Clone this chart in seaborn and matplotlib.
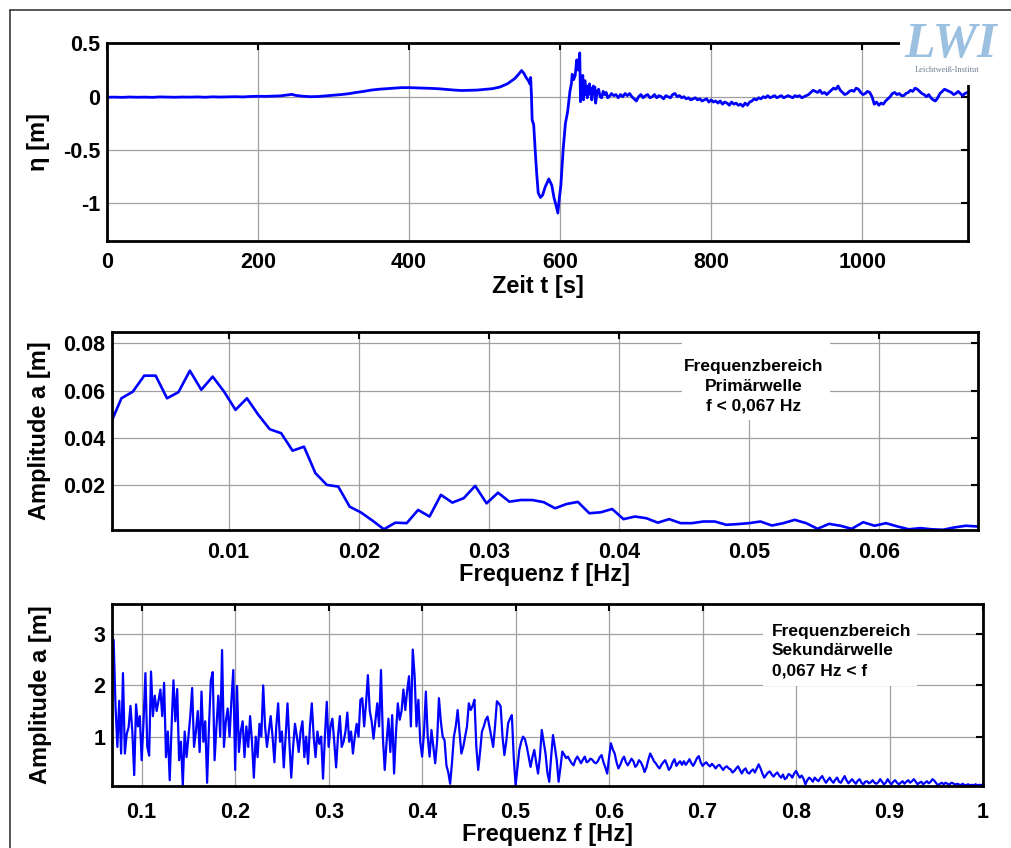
import numpy as np
import pandas as pd
import matplotlib
matplotlib.use("Agg")
import matplotlib.pyplot as plt
import seaborn as sns
from matplotlib.lines import Line2D
from matplotlib.patches import Rectangle

# ---------------- data ----------------
zeit_t = [
    0, 10, 20, 30, 40, 50, 60, 70, 80, 90,
    100, 110, 120, 130, 140, 150, 160, 170, 180, 190,
    200, 210, 220, 230, 240, 245, 250, 260, 270, 280,
    290, 300, 310, 320, 330, 340, 350, 360, 370, 380,
    390, 400, 410, 420, 430, 440, 450, 460, 470, 480,
    490, 500, 510, 520, 530, 540, 545, 549, 552, 555,
    558, 560, 561, 562, 563, 565, 567, 569, 571, 574,
    577, 580, 585, 589, 592, 594, 597, 599, 601, 604,
    607, 610, 613, 615, 616, 618, 620, 622, 624, 626,
    627, 628, 629, 630, 631, 632, 633, 634, 635, 636,
    637, 639, 640, 641, 642, 644, 645, 646, 647, 649,
    651, 653, 655, 657, 659, 661, 663, 665, 668, 671,
    674, 677, 680, 683, 686, 689, 692, 695, 698, 701,
    704, 707, 710, 713, 716, 719, 722, 725, 728, 731,
    734, 737, 740, 743, 746, 749, 752, 755, 758, 761,
    764, 767, 770, 773, 776, 779, 782, 785, 788, 791,
    794, 797, 800, 803, 806, 809, 812, 815, 818, 821,
    824, 827, 830, 833, 836, 839, 842, 845, 848, 851,
    854, 857, 860, 863, 866, 869, 872, 875, 878, 881,
    884, 887, 890, 893, 896, 899, 902, 905, 908, 911,
    914, 917, 920, 923, 926, 929, 932, 935, 938, 941,
    944, 947, 950, 953, 956, 959, 962, 965, 968, 971,
    974, 977, 980, 983, 986, 989, 992, 995, 998, 1001,
    1004, 1007, 1010, 1013, 1016, 1019, 1022, 1025, 1028, 1031,
    1034, 1037, 1040, 1043, 1046, 1049, 1052, 1055, 1058, 1061,
    1064, 1067, 1070, 1073, 1076, 1079, 1082, 1085, 1088, 1091,
    1094, 1097, 1100, 1103, 1106, 1109, 1112, 1115, 1118, 1121,
    1124, 1127, 1130, 1133, 1136, 1139]

eta = [
    -0.005, -0.004, -0.006, -0.003, -0.005, -0.004, -0.006, -0.002, -0.004, -0.005,
    -0.003, -0.004, -0.002, -0.005, -0.001, -0.003, -0.002, 0.000, -0.002, 0.002,
    0.004, 0.003, 0.006, 0.008, 0.018, 0.022, 0.012, 0.004, 0.000, 0.002,
    0.008, 0.015, 0.020, 0.028, 0.040, 0.050, 0.062, 0.070, 0.075, 0.080,
    0.085, 0.085, 0.083, 0.080, 0.078, 0.074, 0.068, 0.062, 0.058, 0.060,
    0.062, 0.068, 0.075, 0.090, 0.120, 0.170, 0.210, 0.245, 0.220, 0.180,
    0.150, 0.120, 0.180, 0.020, -0.220, -0.260, -0.500, -0.720, -0.900, -0.944,
    -0.920, -0.850, -0.770, -0.830, -0.950, -1.000, -1.090, -0.950, -0.830, -0.500,
    -0.250, -0.140, 0.050, 0.125, 0.210, 0.160, 0.200, 0.345, 0.250, 0.410,
    -0.047, 0.160, 0.050, 0.200, -0.030, 0.120, 0.150, 0.020, 0.100, -0.010,
    0.080, 0.120, 0.020, 0.080, -0.030, 0.100, 0.040, 0.090, -0.060, 0.050,
    0.070, 0.000, -0.010, 0.050, 0.020, 0.040, -0.010, 0.000, 0.030, 0.010,
    0.020, -0.010, 0.020, 0.000, 0.030, 0.010, 0.030, 0.000, -0.020, -0.040,
    0.000, 0.020, -0.010, 0.010, 0.020, -0.010, 0.000, 0.020, -0.010, 0.010,
    0.000, -0.020, 0.010, 0.000, -0.010, 0.020, 0.030, 0.000, 0.010, -0.010,
    0.000, -0.020, -0.010, -0.030, -0.020, -0.010, -0.030, -0.020, -0.040, -0.030,
    -0.020, -0.050, -0.030, -0.050, -0.040, -0.060, -0.040, -0.070, -0.050, -0.060,
    -0.080, -0.050, -0.070, -0.060, -0.080, -0.070, -0.090, -0.060, -0.080, -0.050,
    -0.040, -0.020, -0.030, -0.010, -0.020, 0.000, -0.010, 0.010, -0.010, 0.000,
    0.010, -0.010, 0.000, 0.010, -0.010, 0.000, 0.010, 0.000, -0.010, 0.010,
    0.000, 0.010, -0.010, 0.000, 0.010, 0.020, 0.040, 0.060, 0.050, 0.040,
    0.060, 0.030, 0.040, 0.020, 0.040, 0.060, 0.080, 0.070, 0.100, 0.060,
    0.040, 0.020, 0.030, 0.050, 0.060, 0.050, 0.080, 0.070, 0.040, 0.020,
    0.030, 0.050, 0.040, 0.000, -0.070, -0.050, -0.080, -0.060, -0.070, -0.040,
    -0.020, 0.000, 0.030, 0.040, 0.020, 0.030, 0.010, 0.010, 0.030, 0.040,
    0.060, 0.050, 0.080, 0.070, 0.050, 0.030, 0.020, 0.000, 0.020, -0.010,
    -0.030, -0.040, -0.010, 0.030, 0.050, 0.070, 0.060, 0.050, 0.040, 0.020,
    0.030, 0.050, 0.030, 0.010, 0.030, 0.040]

# primary-wave spectrum: bins k = 1, 2, ... with spacing 1/1140 Hz
DF_PRIMAER = 1.0 / 1140.0
amp_primaer = [
    0.0454, 0.0567, 0.0595, 0.0663, 0.0663, 0.0567, 0.0593, 0.0684, 0.0603, 0.0659,
    0.0595, 0.0518, 0.0567, 0.0497, 0.0436, 0.0419, 0.0345, 0.0362, 0.0250, 0.0200,
    0.0193, 0.0108, 0.0083, 0.0049, 0.0012, 0.0040, 0.0038, 0.0094, 0.0066, 0.0158,
    0.0125, 0.0144, 0.0196, 0.0122, 0.0167, 0.0129, 0.0136, 0.0136, 0.0127, 0.0101,
    0.0119, 0.0128, 0.0080, 0.0084, 0.0098, 0.0055, 0.0066, 0.0059, 0.0040, 0.0055,
    0.0038, 0.0038, 0.0045, 0.0045, 0.0031, 0.0034, 0.0038, 0.0045, 0.0028, 0.0038,
    0.0052, 0.0038, 0.0014, 0.0035, 0.0027, 0.0014, 0.0042, 0.0027, 0.0038, 0.0024,
    0.0012, 0.0017, 0.0012, 0.0010, 0.0020, 0.0027, 0.0024, 0.0012]

# secondary-wave spectrum: grid starting at 0.068 Hz, spacing 0.002 Hz
F_SEK_START = 0.068
F_SEK_STEP = 0.002
amp_sekundaer = [
    1.80, 2.89, 1.60, 0.80, 1.70, 0.67, 2.24, 0.67, 1.05, 1.18,
    1.60, 1.10, 0.25, 1.63, 1.20, 1.40, 0.54, 1.30, 2.24, 0.80,
    0.63, 2.27, 1.40, 1.80, 1.50, 1.70, 1.92, 1.40, 2.05, 0.60,
    1.10, 0.15, 1.20, 2.10, 1.30, 1.93, 0.54, 0.90, 0.05, 1.10,
    0.60, 0.99, 1.40, 1.95, 0.80, 1.10, 1.50, 0.70, 1.88, 0.90,
    1.30, 0.10, 1.20, 2.10, 2.26, 0.54, 1.20, 1.80, 1.00, 2.69,
    0.80, 1.30, 1.55, 1.00, 1.70, 2.30, 0.35, 1.99, 0.70, 1.10,
    1.30, 0.60, 1.20, 0.80, 1.40, 0.90, 0.20, 1.00, 0.60, 1.25,
    1.00, 2.00, 1.20, 0.80, 1.10, 1.40, 1.00, 0.50, 1.20, 1.65,
    0.90, 1.10, 0.40, 1.00, 1.65, 0.90, 0.20, 0.80, 1.25, 1.00,
    0.70, 1.10, 1.30, 0.60, 1.00, 0.47, 1.20, 1.65, 1.00, 0.60,
    1.10, 0.86, 1.00, 0.18, 1.00, 1.68, 0.80, 1.20, 1.35, 0.90,
    0.40, 1.00, 1.40, 0.80, 0.90, 1.10, 1.47, 0.90, 1.10, 0.67,
    1.00, 1.25, 1.00, 1.72, 1.75, 1.20, 1.65, 2.20, 1.50, 1.30,
    0.96, 1.30, 1.65, 1.20, 2.30, 1.00, 0.35, 0.90, 1.35, 0.70,
    1.42, 0.28, 1.07, 1.65, 1.33, 1.50, 1.92, 1.52, 1.90, 2.18,
    1.20, 2.70, 2.18, 1.20, 1.72, 0.90, 0.61, 1.07, 1.88, 1.00,
    0.61, 1.13, 0.80, 0.48, 0.90, 1.75, 1.30, 1.00, 0.93, 0.44,
    0.30, 0.08, 0.50, 1.00, 1.20, 1.52, 1.10, 0.67, 0.80, 1.00,
    1.20, 1.65, 1.52, 1.60, 1.72, 0.80, 0.35, 0.70, 1.10, 1.20,
    1.33, 1.39, 1.20, 1.00, 0.80, 1.20, 1.69, 1.65, 1.59, 1.00,
    0.64, 0.90, 1.26, 1.35, 1.42, 0.60, 0.05, 0.40, 0.74, 0.90,
    1.00, 0.95, 0.80, 0.60, 0.41, 0.60, 0.74, 0.50, 0.28, 0.60,
    1.13, 0.90, 0.67, 0.30, 0.12, 0.60, 1.03, 0.80, 0.54, 0.12,
    0.40, 0.71, 0.65, 0.58, 0.61, 0.54, 0.48, 0.44, 0.55, 0.61,
    0.55, 0.48, 0.55, 0.61, 0.50, 0.52, 0.57, 0.55, 0.50, 0.48,
    0.52, 0.60, 0.64, 0.50, 0.40, 0.28, 0.60, 0.87, 0.75, 0.67,
    0.50, 0.38, 0.45, 0.55, 0.61, 0.50, 0.44, 0.50, 0.57, 0.52,
    0.41, 0.45, 0.54, 0.50, 0.42, 0.31, 0.40, 0.55, 0.67, 0.60,
    0.52, 0.48, 0.42, 0.38, 0.45, 0.50, 0.54, 0.45, 0.35, 0.40,
    0.50, 0.56, 0.43, 0.48, 0.52, 0.45, 0.52, 0.45, 0.50, 0.56,
    0.48, 0.43, 0.50, 0.58, 0.62, 0.50, 0.43, 0.47, 0.50, 0.45,
    0.42, 0.47, 0.43, 0.38, 0.43, 0.45, 0.40, 0.35, 0.40, 0.42,
    0.38, 0.36, 0.30, 0.33, 0.38, 0.42, 0.35, 0.28, 0.35, 0.38,
    0.30, 0.28, 0.33, 0.36, 0.30, 0.38, 0.46, 0.38, 0.28, 0.20,
    0.25, 0.30, 0.32, 0.26, 0.22, 0.27, 0.30, 0.24, 0.20, 0.26,
    0.17, 0.20, 0.27, 0.25, 0.20, 0.28, 0.33, 0.26, 0.20, 0.24,
    0.18, 0.07, 0.15, 0.20, 0.17, 0.12, 0.20, 0.16, 0.13, 0.19,
    0.23, 0.16, 0.10, 0.15, 0.20, 0.14, 0.10, 0.16, 0.20, 0.12,
    0.10, 0.17, 0.23, 0.15, 0.09, 0.13, 0.17, 0.12, 0.08, 0.14,
    0.17, 0.10, 0.07, 0.12, 0.13, 0.09, 0.11, 0.15, 0.10, 0.08,
    0.11, 0.17, 0.12, 0.07, 0.10, 0.17, 0.11, 0.07, 0.12, 0.15,
    0.10, 0.07, 0.10, 0.13, 0.08, 0.12, 0.15, 0.10, 0.13, 0.17,
    0.12, 0.07, 0.10, 0.12, 0.07, 0.10, 0.13, 0.09, 0.12, 0.17,
    0.14, 0.09, 0.05, 0.08, 0.10, 0.07, 0.10, 0.08, 0.06, 0.10,
    0.09, 0.06, 0.08, 0.07, 0.05, 0.08, 0.06, 0.05, 0.07, 0.05,
    0.06, 0.05, 0.07, 0.05, 0.06, 0.05, 0.07]

xt1 = [0, 200, 400, 600, 800, 1000]
xt1_lab = ["0", "200", "400", "600", "800", "1000"]
yt1 = [-1, -0.5, 0, 0.5]
yt1_lab = ["-1", "-0.5", "0", "0.5"]
xt2 = [0.01, 0.02, 0.03, 0.04, 0.05, 0.06]
xt2_lab = ["0.01", "0.02", "0.03", "0.04", "0.05", "0.06"]
yt2 = [0.02, 0.04, 0.06, 0.08]
yt2_lab = ["0.02", "0.04", "0.06", "0.08"]
xt3 = [0.1, 0.2, 0.3, 0.4, 0.5, 0.6, 0.7, 0.8, 0.9, 1.0]
xt3_lab = ["0.1", "0.2", "0.3", "0.4", "0.5", "0.6", "0.7", "0.8", "0.9", "1"]
yt3 = [1, 2, 3]
yt3_lab = ["1", "2", "3"]

# ---------------- figure ----------------
sns.set_theme(style="white")
plt.rcParams['font.family'] = ['Liberation Sans', 'DejaVu Sans']

fig = plt.figure(figsize=(10.11, 8.48), dpi=100)
fig.patch.set_facecolor('white')

ax1 = fig.add_axes([0.1058, 0.7154, 0.8516, 0.2335])
ax2 = fig.add_axes([0.1105, 0.3750, 0.8569, 0.2338])
ax3 = fig.add_axes([0.1111, 0.0735, 0.8612, 0.2143])

BLUE = '#0000ff'
df1 = pd.DataFrame({'t': zeit_t, 'eta': eta})
sns.lineplot(data=df1, x='t', y='eta', ax=ax1, color=BLUE, linewidth=2.0,
             estimator=None, sort=False, legend=False)

df2 = pd.DataFrame({'f': DF_PRIMAER * np.arange(1, len(amp_primaer) + 1),
                    'a': amp_primaer})
sns.lineplot(data=df2, x='f', y='a', ax=ax2, color=BLUE, linewidth=1.9,
             estimator=None, sort=False, legend=False)

df3 = pd.DataFrame({'f': F_SEK_START + F_SEK_STEP * np.arange(len(amp_sekundaer)),
                    'a': amp_sekundaer})
sns.lineplot(data=df3, x='f', y='a', ax=ax3, color=BLUE, linewidth=1.6,
             estimator=None, sort=False, legend=False)


def style(ax, xt, xl, yt, yl, xlim, ylim, xlabel, ylabel, xpad, xlab_y, ylab_x):
    ax.set_xlim(*xlim)
    ax.set_ylim(*ylim)
    ax.set_xticks(xt)
    ax.set_xticklabels(xl, fontsize=15.5, fontweight='bold')
    ax.set_yticks(yt)
    ax.set_yticklabels(yl, fontsize=15.5, fontweight='bold')
    ax.tick_params(axis='both', which='major', direction='in', length=5, width=1.5,
                   color='black', labelcolor='black', top=True, right=True)
    ax.tick_params(axis='x', pad=xpad)
    ax.tick_params(axis='y', pad=5)
    ax.grid(True, color='#a0a0a0', linewidth=0.9, linestyle='-')
    ax.set_axisbelow(True)
    for sp in ax.spines.values():
        sp.set_visible(True)
        sp.set_color('black')
        sp.set_linewidth(2.0)
    ax.set_xlabel(xlabel, fontsize=17, fontweight='bold', color='black')
    ax.xaxis.set_label_coords(0.5, xlab_y)
    ax.xaxis.label.set_verticalalignment('center')
    ax.set_ylabel(ylabel, fontsize=17, fontweight='bold', color='black')
    ax.yaxis.set_label_coords(ylab_x, 0.5)
    ax.yaxis.label.set_verticalalignment('center')
    ax.set_facecolor('white')


style(ax1, xt1, xt1_lab, yt1, yt1_lab, (0, 1140), (-1.355, 0.5),
      "Zeit t [s]", "\u03b7 [m]", 8, -0.226, -0.080)
style(ax2, xt2, xt2_lab, yt2, yt2_lab, (0.00101, 0.0676), (0.0009, 0.0849),
      "Frequenz f [Hz]", "Amplitude a [m]", 8.5, -0.222, -0.083)
style(ax3, xt3, xt3_lab, yt3, yt3_lab, (0.0686, 1.0), (0.043, 3.59),
      "Frequenz f [Hz]", "Amplitude a [m]", 12, -0.266, -0.083)

# text boxes hiding the grid
ax2.add_patch(Rectangle((0.658, 0.555), 0.171, 0.44, transform=ax2.transAxes,
                        facecolor='white', edgecolor='none', zorder=1.5))
ax2.text(0.7414, 0.726, "Frequenzbereich\nPrimärwelle\nf < 0,067 Hz",
         transform=ax2.transAxes, ha='center', va='center', fontsize=12.5,
         fontweight='bold', color='black', linespacing=1.4, zorder=3)

ax3.add_patch(Rectangle((0.747, 0.549), 0.177, 0.446, transform=ax3.transAxes,
                        facecolor='white', edgecolor='none', zorder=1.5))
ax3.text(0.7577, 0.742, "Frequenzbereich\nSekundärwelle\n0,067 Hz < f",
         transform=ax3.transAxes, ha='left', va='center', fontsize=12.5,
         fontweight='bold', color='black', linespacing=1.4, zorder=3)

# logo
fig.add_artist(Rectangle((0.890, 0.8998), 0.110, 0.0837, transform=fig.transFigure,
                         facecolor='white', edgecolor='none', zorder=5))
fig.text(0.9407, 0.947, "LWI", fontsize=36, family=['Liberation Serif'],
         style='italic', fontweight='bold', color='#9cc0e0',
         ha='center', va='center', zorder=6)
fig.text(0.9367, 0.9175, "Leichtweiß-Institut", fontsize=6, family=['Liberation Serif'],
         color='#6d7f91', ha='center', va='center', zorder=6)

# outer frame
fig.add_artist(Line2D([0.0099, 0.0099], [0.0, 0.9882], transform=fig.transFigure,
                      color='#3a3a3a', linewidth=1.2, zorder=7))
fig.add_artist(Line2D([0.0099, 1.0], [0.9882, 0.9882], transform=fig.transFigure,
                      color='#3a3a3a', linewidth=1.2, zorder=7))

fig.savefig("out.png", dpi=100, facecolor='white')
